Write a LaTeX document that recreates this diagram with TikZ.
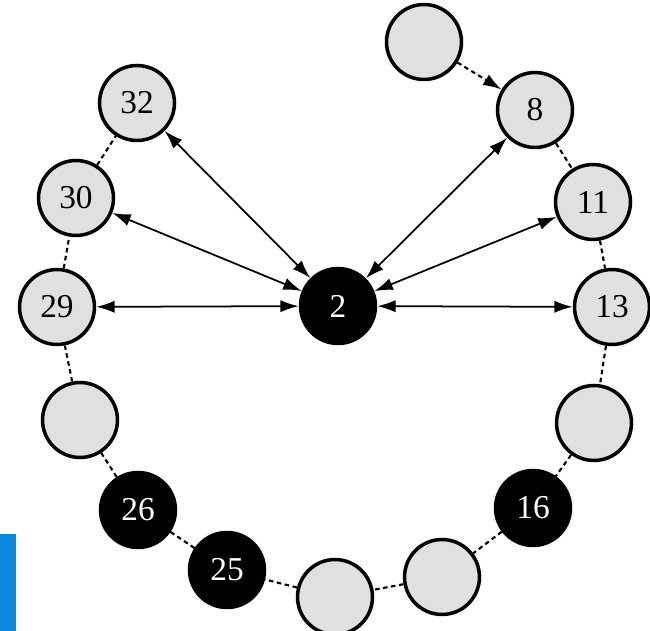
\documentclass[tikz,border=0pt]{standalone}
\usepackage{fontspec}
\setmainfont{Liberation Serif}
\usetikzlibrary{arrows.meta}

\tikzset{
  ring/.style={circle,draw,line width=2pt,fill=black!12,minimum size=1.5cm,inner sep=0pt,
    font=\fontsize{19}{22}\selectfont},
  hit/.style={ring,fill=black,text=white},
  link/.style={line width=1.2pt,dash pattern=on 2.6pt off 2pt},
  finger/.style={line width=1pt,{Latex[length=10.5pt,width=7pt]}-{Latex[length=10.5pt,width=7pt]}}
}

\begin{document}
\begin{tikzpicture}[x=0.02cm,y=-0.02cm]
    \useasboundingbox (0,0) rectangle (650,631);
    \fill[fill={rgb,255:red,10;green,136;blue,222}] (0,534) rectangle (16,631);
    \node[hit]  (n2)  at (338,306) {2};
    \node[ring] (e)   at (424,42)  {};
    \node[ring] (n8)  at (535,110) {8};
    \node[ring] (n11) at (593,202) {11};
    \node[ring] (n13) at (612,307) {13};
    \node[ring] (d)   at (594,423) {};
    \node[hit]  (n16) at (533,508) {16};
    \node[ring] (c)   at (442,577) {};
    \node[ring] (b)   at (335,597) {};
    \node[hit]  (n25) at (227,570) {25};
    \node[hit]  (n26) at (138,510) {26};
    \node[ring] (a)   at (80,420)  {};
    \node[ring] (n29) at (57,307)  {29};
    \node[ring] (n30) at (76,198)  {30};
    \node[ring] (n32) at (137,103) {32};
    % successor links on the ring
    \path[link]
    (n8) edge (n11)
    (n11) edge (n13)
    (n13) edge (d)
    (d) edge (n16)
    (n16) edge (c)
    (c) edge (b)
    (b) edge (n25)
    (n25) edge (n26)
    (n26) edge (a)
    (a) edge (n29)
    (n29) edge (n30)
    (n30) edge (n32);
    \draw[link,-{Latex[length=10.5pt,width=7pt]}] (e) -- (n8);
    % finger table
    \path[finger]
    (n2) edge (n32)
    (n2) edge (n30)
    (n2) edge (n29)
    (n2) edge (n8)
    (n2) edge (n11)
    (n2) edge (n13);
\end{tikzpicture}
\end{document}
